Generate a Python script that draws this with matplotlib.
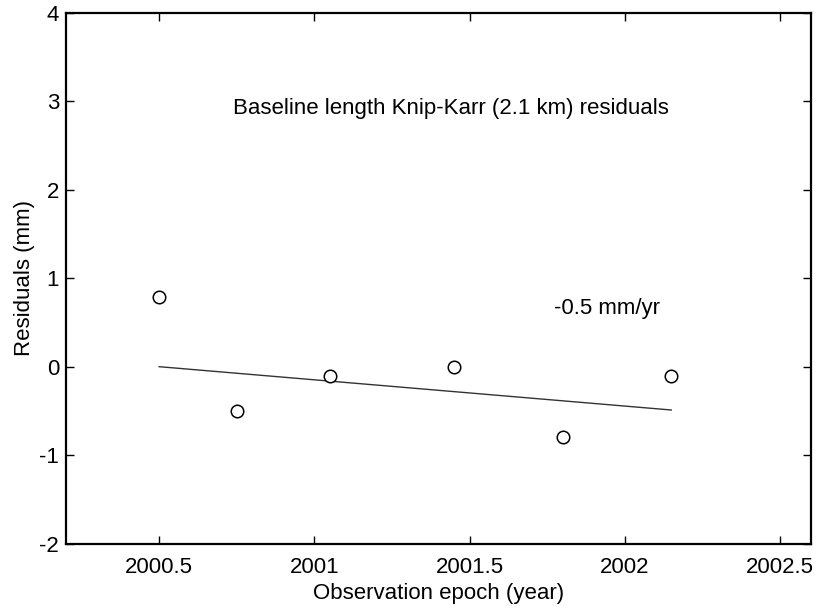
import matplotlib
matplotlib.use("Agg")
import matplotlib.pyplot as plt

plt.rcParams['font.family'] = ['Liberation Sans', 'DejaVu Sans']
plt.rcParams['axes.unicode_minus'] = False

epochs = [2000.50, 2000.75, 2001.05, 2001.45, 2001.80, 2002.15]
residuals = [0.79, -0.50, -0.10, 0.00, -0.80, -0.10]
trend_x = [2000.50, 2002.15]
trend_y = [0.00, -0.49]
x_ticks = [2000.5, 2001, 2001.5, 2002, 2002.5]
x_tick_labels = ['2000.5', '2001', '2001.5', '2002', '2002.5']
y_ticks = [-2, -1, 0, 1, 2, 3, 4]

fig = plt.figure(figsize=(8.18, 6.14), dpi=100)
ax = fig.add_axes([0.0807, 0.1148, 0.9107, 0.864])

ax.plot(trend_x, trend_y, color='#333333', lw=1.0)
ax.plot(epochs, residuals, 'o', mfc='white', mec='black', ms=9, mew=1.1)

ax.set_xlim(2000.2, 2002.6)
ax.set_ylim(-2, 4)
ax.set_xticks(x_ticks)
ax.set_xticklabels(x_tick_labels)
ax.set_yticks(y_ticks)
ax.tick_params(direction='in', top=True, right=True, labelsize=16, length=6, width=1)
ax.tick_params(axis='y', pad=5)
ax.tick_params(axis='x', pad=10)
for s in ax.spines.values():
    s.set_linewidth(1.6)

ax.set_xlabel('Observation epoch (year)', fontsize=16, labelpad=3)
ax.set_ylabel('Residuals (mm)', fontsize=16, labelpad=3)

ax.text(2000.737, 2.86, 'Baseline length Knip-Karr (2.1 km) residuals', fontsize=16,
        ha='left', va='baseline')
ax.text(2001.773, 0.60, '-0.5 mm/yr', fontsize=16, ha='left', va='baseline')

fig.savefig('out.png', dpi=100)
